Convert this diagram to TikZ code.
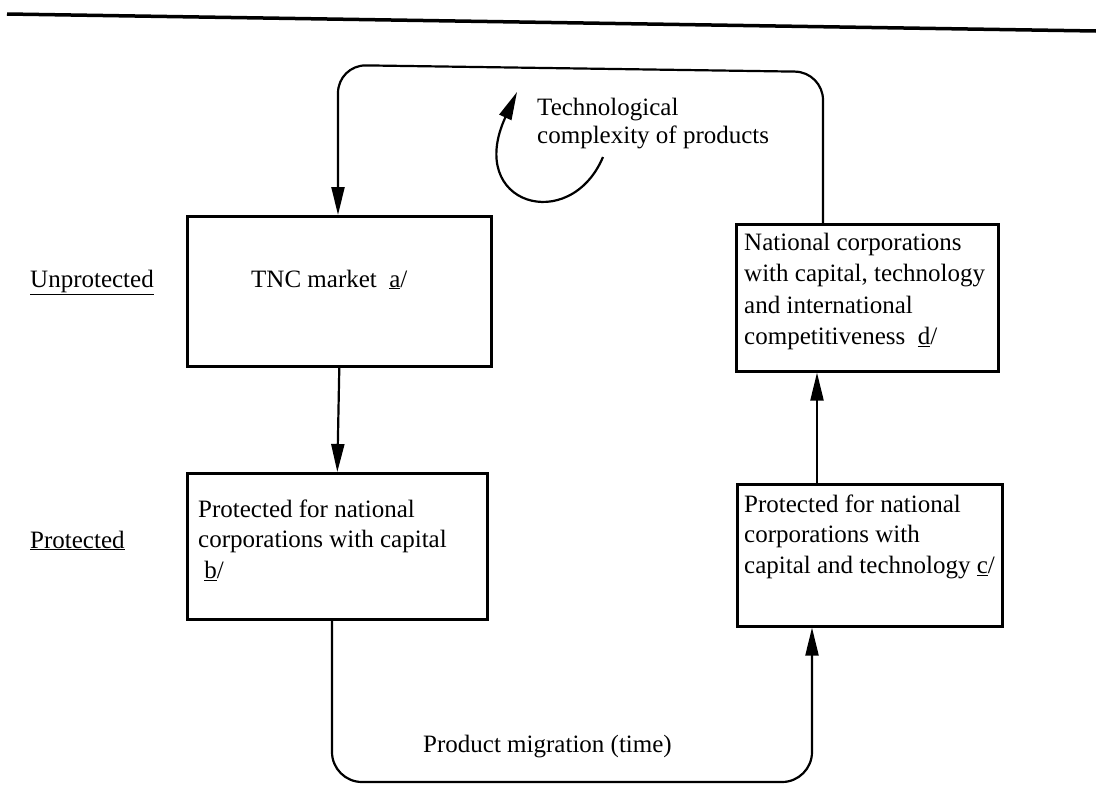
\documentclass[tikz,border=0pt]{standalone}
\usepackage{fontspec}
\setmainfont{Liberation Serif}
\usetikzlibrary{arrows.meta}
\begin{document}
\begin{tikzpicture}[x=1pt,y=-1pt,
  box/.style={draw,line width=2.6pt,inner sep=0pt,anchor=north west},
  conn/.style={line width=2.2pt},
  arr/.style={conn,-{Triangle[length=28pt,width=13pt]}},
  lbl/.style={inner sep=0pt,anchor=north west,align=left,font=\fontsize{25}{30.5}\selectfont},
  one/.style={inner sep=0pt,anchor=base west,font=\fontsize{25}{30}\selectfont},
]
\useasboundingbox (0,0) rectangle (1096,785);
% page rule
\coordinate (pl1) at (7,14);
\coordinate (pl2) at (1096,31);
\draw[line width=3.5pt] (pl1) -- (pl2);
% boxes
\node[box,minimum width=304pt,minimum height=150pt] (tnc) at (186,215) {};
\node[box,minimum width=300pt,minimum height=146pt] (b) at (186,472) {};
\node[box,minimum width=262pt,minimum height=147pt] (d) at (735,223) {};
\node[box,minimum width=265pt,minimum height=142pt] (c) at (736,483) {};
% texts
\node[one] (tnct) at (251,287) {TNC market\ \ \underline{a}/};
\node[one] (unp) at (30,287) {\underline{Unprotected}};
\node[one] (pro) at (30,548) {\underline{Protected}};
\node[lbl] (bt) at (198,499.5) {Protected for national\\corporations with capital\\\ \underline{b}/};
\node[lbl,font=\fontsize{25}{31.5}\selectfont] (dt) at (744,232.5) {National corporations\\with capital, technology\\and international\\competitiveness\ \ \underline{d}/};
\node[lbl] (ct) at (744,494.5) {Protected for national\\corporations with\\capital and technology\ \underline{c}/};
\node[lbl,font=\fontsize{25}{28}\selectfont] (tech) at (537,97.5) {Technological\\complexity of products};
\node[one] (pm) at (423,752) {Product migration (time)};
% loop top
\coordinate (tl) at (338,65);
\coordinate (tr) at (823,72);
\draw[arr,rounded corners=28pt] (tr |- d.north) -- (tr) -- (tl) -- (tl |- tnc.north);
% vertical arrows
\draw[arr] (tnc.south) -- (b.north);
\coordinate (cd) at (817,0);
\draw[arr] (cd |- c.north) -- (cd |- d.south);
% loop bottom
\coordinate (bl) at (332,782);
\coordinate (br) at (812,782);
\draw[arr,rounded corners=30pt] (bl |- b.south) -- (bl) -- (br) -- (br |- c.south);
% curved arrow
\coordinate (cs) at (603,157);
\coordinate (ce) at (517,92);
\draw[arr] (cs) .. controls (570,235) and (465,205) .. (ce);
\end{tikzpicture}
\end{document}
